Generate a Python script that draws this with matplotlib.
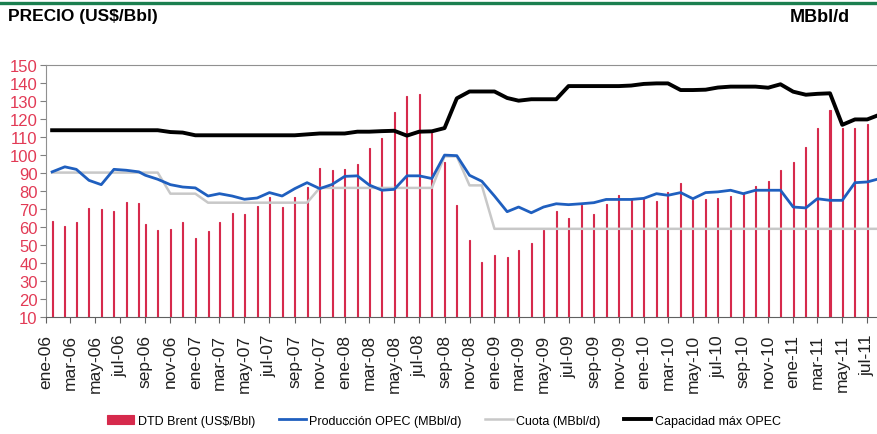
import matplotlib
matplotlib.use("Agg")
import matplotlib.pyplot as plt
from matplotlib.lines import Line2D
import numpy as np
from datetime import date

plt.rcParams['font.family'] = ['Liberation Sans', 'DejaVu Sans']

# fechas: ene-ago 2006 vienen a mitad de mes, desde sep-06 al dia 1
fechas = [date(2006, m, 16) for m in range(1, 9)]
for a in range(2006, 2012):
    for m in range(1, 13):
        if (a == 2006 and m < 9) or (a == 2011 and m > 8):
            continue
        fechas.append(date(a, m, 1))

meses = ['ene', 'feb', 'mar', 'abr', 'may', 'jun', 'jul', 'ago', 'sep', 'oct', 'nov', 'dic']

# DTD Brent (US$/Bbl)
brent = [63.5, 60.5, 63, 70.5, 70, 69, 74, 73.5, 62, 58.5, 59, 63,
         54, 58, 63, 68, 67.5, 71.5, 77, 71, 77, 82.5, 93, 91.5,
         92.5, 95, 104, 109.6, 124, 133, 133.7, 112, 96.3, 72.5, 53, 40.6,
         44.3, 43.4, 47.5, 51.4, 58.5, 68.8, 65.3, 72.5, 67.5, 73, 78, 75.5,
         75.5, 74.3, 79.6, 84.7, 75, 75.5, 76, 77.5, 79, 83, 85.5, 91.6,
         96.3, 104.5, 115.3, 125, 114.8, 114.8, 117, np.nan]

produccion = [90.7, 93.5, 92.1, 86, 83.6, 92.1, 91.6, 90.7, 88.8, 86.6, 83.6, 82.3,
              81.8, 77.3, 78.6, 77.3, 75.5, 76.2, 79.2, 77.3, 81.4, 84.7, 81.4, 83.7,
              88.2, 88.5, 83.4, 80.5, 81, 88.5, 88.5, 87, 100, 99.7, 88.8, 85.5,
              77.3, 68.6, 71.2, 68, 71.2, 73, 72.5, 73, 73.6, 75.4, 75.4, 75.4,
              76, 78.6, 77.7, 79.2, 75.8, 79.2, 79.6, 80.5, 78.6, 80.5, 80.5, 80.5,
              71.2, 70.7, 75.8, 74.9, 74.9, 84.7, 85.1, 87]

# Cuota (MBbl/d)
cuota = [90.3, 90.3, 90.3, 90.3, 90.3, 90.3, 90.3, 90.3, 90.3, 90.3, 78.6, 78.6,
         78.6, 73.6, 73.6, 73.6, 73.6, 73.6, 73.6, 73.6, 73.6, 73.6, 81.8, 81.8,
         81.8, 81.8, 81.8, 81.8, 81.8, 81.8, 81.8, 81.8, 99.3, 99.3, 83.2, 83.2,
         59.1, 59.1, 59.1, 59.1, 59.1, 59.1, 59.1, 59.1, 59.1, 59.1, 59.1, 59.1,
         59.1, 59.1, 59.1, 59.1, 59.1, 59.1, 59.1, 59.1, 59.1, 59.1, 59.1, 59.1,
         59.1, 59.1, 59.1, 59.1, 59.1, 59.1, 59.1, 59.1]

# Capacidad max OPEC
capacidad = [113.8, 113.8, 113.8, 113.8, 113.8, 113.8, 113.8, 113.8, 113.8, 113.8, 112.8, 112.5,
             111, 111, 111, 111, 111, 111, 111, 111, 111, 111.5, 112, 112,
             112, 113, 113, 113.3, 113.5, 110.8, 113, 113.2, 115, 131.5, 135.3, 135.3,
             135.3, 131.7, 130.2, 131, 131, 131, 138.3, 138.3, 138.3, 138.3, 138.3, 138.6,
             139.5, 139.8, 139.8, 136.1, 136.1, 136.3, 137.5, 138, 138, 138, 137.4, 139.3,
             135.2, 133.5, 134, 134.3, 116.8, 119.8, 119.8, 122.5]

rojo = '#D62A4C'

fig = plt.figure(figsize=(8.77, 4.35), dpi=100)
ax = fig.add_axes([46/877, 116.7/435, 846.6/877, 252.3/435])

barras = ax.bar(fechas, brent, width=2.5, color=rojo, edgecolor=rojo, linewidth=0.8, zorder=1)
l1, = ax.plot(fechas, produccion, color='#1F5FBF', lw=2.0, zorder=3)
l2, = ax.plot(fechas, cuota, color='#C8C8C8', lw=1.8, zorder=2)
l3, = ax.plot(fechas, capacidad, color='black', lw=2.8, zorder=4)

ax.set_xlim(date(2006, 1, 1), date(2011, 9, 1))
ax.set_ylim(10, 150)
ax.set_yticks(range(10, 151, 10))
ax.tick_params(axis='y', labelsize=12, labelcolor='#E23A55', color='#808080', length=4, pad=2)

ticks = [date(a, m, 1) for a in range(2006, 2012) for m in range(1, 13, 2)
         if not (a == 2011 and m > 7)]
ax.set_xticks(ticks)
ax.set_xticklabels([meses[t.month - 1] + '-' + str(t.year)[2:] for t in ticks],
                   rotation=90, fontsize=12.5, color='#202020')
ax.tick_params(axis='x', color='#606060', length=4, pad=8)

for lado in ['left', 'top']:
    ax.spines[lado].set_color('#909090')
ax.spines['bottom'].set_color('#606060')
ax.spines['right'].set_visible(False)

fig.text(8/877, 1 - 17/435, 'PRECIO (US$/Bbl)', fontsize=12.5, fontweight='bold', va='center')
fig.text(790/877, 1 - 17/435, 'MBbl/d', fontsize=13, fontweight='bold', va='center')
fig.add_artist(Line2D([0, 1], [1 - 4/435, 1 - 4/435], transform=fig.transFigure,
                      color='#1B7F4F', lw=2.4))

fig.legend([barras, l1, l2, l3],
           ['DTD Brent (US$/Bbl)', 'Producción OPEC (MBbl/d)', 'Cuota (MBbl/d)', 'Capacidad máx OPEC'],
           loc='center', bbox_to_anchor=(0.506, 1 - 421.7/435), ncol=4, frameon=False,
           fontsize=9, handlelength=2.2, handletextpad=0.25, columnspacing=1.9)

fig.savefig('out.png', dpi=100)
